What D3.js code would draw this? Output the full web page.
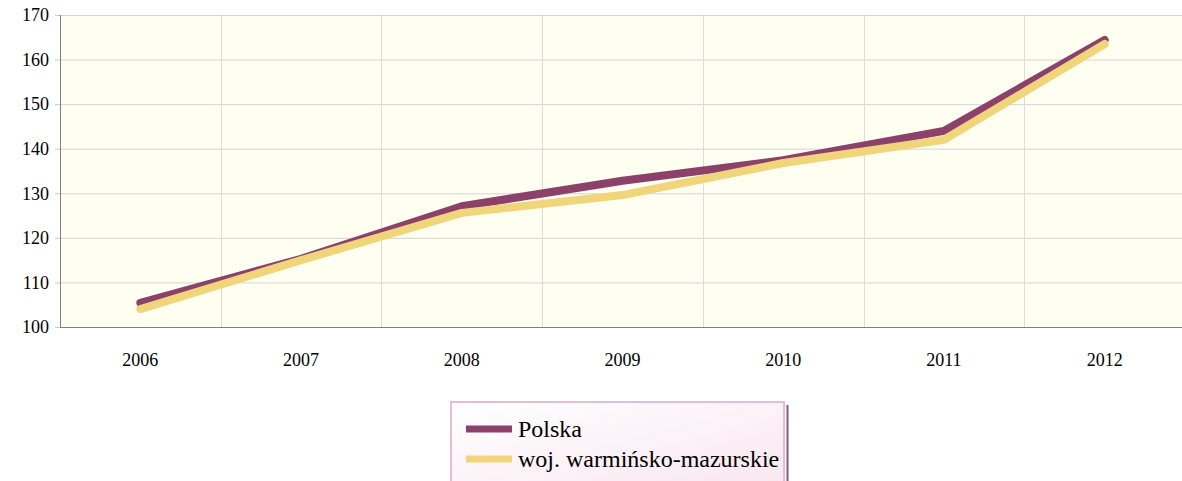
<!DOCTYPE html>
<html>
<head>
<meta charset="utf-8">
<style>
  body { margin: 0; background: #fff; }
  text { font-family: "Liberation Serif", "Times New Roman", serif; }
</style>
</head>
<body>
<svg width="1182" height="481"></svg>
<script src="https://d3js.org/d3.v7.min.js"></script>
<script>
  var years = ["2006", "2007", "2008", "2009", "2010", "2011", "2012"];
  var polska = [105.4, 115.3, 127.1, 132.8, 137.4, 144.0, 164.4];
  var warmaz = [104.0, 115.0, 125.6, 129.6, 136.8, 142.0, 163.5];
  var seriesNames = ["Polska", "woj. warmińsko-mazurskie"];
  var seriesColors = ["#8b4169", "#f0d57a"];
  var yTicks = [100, 110, 120, 130, 140, 150, 160, 170];

  var svg = d3.select("svg"),
    margin = { top: 15, right: 0, bottom: 154, left: 60 },
    width = +svg.attr("width") - margin.left - margin.right,
    height = +svg.attr("height") - margin.top - margin.bottom,
    g = svg.append("g").attr("transform", "translate(" + margin.left + "," + margin.top + ")");

  var x = d3.scaleBand().domain(years).range([0, width + 3]);
  var y = d3.scaleLinear().domain([100, 170]).range([height, 0]);

  // plot background
  g.append("rect")
    .attr("width", width).attr("height", height)
    .attr("fill", "#fefff0");

  // horizontal grid
  g.append("g").selectAll("line")
    .data(yTicks.slice(1))
    .enter().append("line")
    .attr("x1", 0).attr("x2", width)
    .attr("y1", function (d) { return y(d) + 0.5; })
    .attr("y2", function (d) { return y(d) + 0.5; })
    .attr("stroke", "#d4d4d4");

  // vertical grid between categories
  g.append("g").selectAll("line")
    .data(years.slice(1))
    .enter().append("line")
    .attr("x1", function (d) { return Math.round(x(d)) + 0.5; })
    .attr("x2", function (d) { return Math.round(x(d)) + 0.5; })
    .attr("y1", 0).attr("y2", height)
    .attr("stroke", "#dcdcdc");

  // y axis
  var yAxis = g.append("g")
    .call(d3.axisLeft(y).tickValues(yTicks).tickSize(5).tickPadding(6));
  yAxis.attr("font-size", 18).attr("font-family", "Times New Roman, serif");
  yAxis.select(".domain").attr("stroke", "#808080").attr("d", "M0.5,0V" + height);
  yAxis.selectAll(".tick line").attr("stroke", "#c8c8c8");
  yAxis.selectAll("text").attr("fill", "#000");

  // x axis
  var xAxis = g.append("g")
    .attr("transform", "translate(0," + height + ")")
    .call(d3.axisBottom(x).tickSize(0).tickPadding(26));
  xAxis.attr("font-size", 18).attr("font-family", "Times New Roman, serif");
  xAxis.select(".domain").attr("stroke", "#808080").attr("d", "M0," + 0.5 + "H" + width);
  xAxis.selectAll("text").attr("fill", "#000");

  // lines
  var line = d3.line()
    .x(function (d, i) { return x(years[i]) + x.bandwidth() / 2; })
    .y(function (d) { return y(d); });

  [polska, warmaz].forEach(function (s, i) {
    g.append("path")
      .datum(s)
      .attr("d", line)
      .attr("fill", "none")
      .attr("stroke", seriesColors[i])
      .attr("stroke-width", 8)
      .attr("stroke-linecap", "round")
      .attr("stroke-linejoin", "round");
  });

  // legend
  var defs = svg.append("defs");
  var grad = defs.append("linearGradient").attr("id", "lg")
    .attr("x1", "0").attr("y1", "0").attr("x2", "1").attr("y2", "1");
  grad.append("stop").attr("offset", "0").attr("stop-color", "#ffffff");
  grad.append("stop").attr("offset", "1").attr("stop-color", "#f8e6ef");

  var lg = svg.append("g").attr("transform", "translate(450,401)");
  lg.append("line")
    .attr("x1", 337.5).attr("x2", 337.5).attr("y1", 4).attr("y2", 80)
    .attr("stroke", "#8b5a7a").attr("stroke-width", 2);
  lg.append("rect")
    .attr("x", 1).attr("y", 1).attr("width", 333).attr("height", 90)
    .attr("fill", "url(#lg)")
    .attr("stroke", "#e8bcd6").attr("stroke-width", 2);

  var item = lg.selectAll("g.item")
    .data(seriesNames)
    .enter().append("g")
    .attr("class", "item")
    .attr("transform", function (d, i) { return "translate(0," + (28 + i * 30) + ")"; });

  item.append("line")
    .attr("x1", 16).attr("x2", 62)
    .attr("stroke", function (d, i) { return seriesColors[i]; })
    .attr("stroke-width", 7);

  item.append("text")
    .attr("x", 68).attr("dy", "0.35em")
    .attr("font-size", 24).attr("fill", "#000")
    .text(function (d) { return d; });
</script>
</body>
</html>
